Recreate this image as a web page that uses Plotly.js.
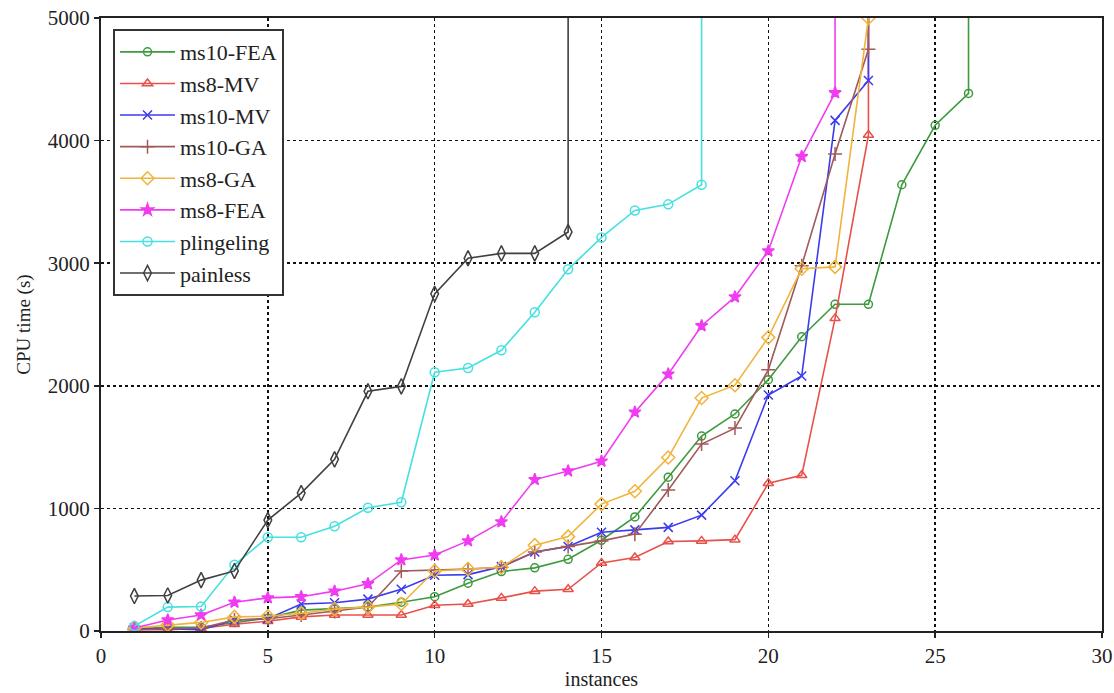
<!DOCTYPE html>
<html>
<head>
<meta charset="utf-8">
<script src="https://cdn.plot.ly/plotly-3.0.1.min.js"></script>
<style>html,body{margin:0;padding:0;background:#fff;}#chart{width:1114px;height:693px;}</style>
</head>
<body>
<div id="chart"></div>
<script>
// Values of 10000 represent a timeout (drawn as the vertical rise off the top of the chart)
const TIMEOUT = 10000;

const ms10FEA_x = [1,2,3,4,5,6,7,8,9,10,11,12,13,14,15,16,17,18,19,20,21,22,23,24,25,26,26];
const ms10FEA_y = [15,30,30,70,105,170,180,195,235,280,390,485,515,585,740,930,1255,1590,1770,2050,2400,2665,2665,3640,4125,4385,TIMEOUT];

const ms8MV_x = [1,2,3,4,5,6,7,8,9,10,11,12,13,14,15,16,17,18,19,20,21,22,23,23];
const ms8MV_y = [10,10,20,55,80,115,130,130,130,210,220,270,325,340,555,600,730,735,745,1205,1270,2550,4045,TIMEOUT];

const ms10MV_x = [1,2,3,4,5,6,7,8,9,10,11,12,13,14,15,16,17,18,19,20,21,22,23,23];
const ms10MV_y = [25,15,10,90,100,220,230,260,340,455,460,525,645,690,805,825,845,945,1225,1925,2080,4165,4490,TIMEOUT];

const ms10GA_x = [1,2,3,4,5,6,7,8,9,10,11,12,13,14,15,16,17,18,19,20,21,22,23,23];
const ms10GA_y = [10,20,25,90,100,130,160,195,490,495,505,520,645,690,735,790,1150,1525,1655,2130,2980,3890,4745,TIMEOUT];

const ms8GA_x = [1,2,3,4,5,6,7,8,9,10,11,12,13,14,15,16,17,18,19,20,21,22,23,23];
const ms8GA_y = [25,50,70,115,120,145,180,195,220,490,505,520,700,770,1035,1140,1415,1900,2005,2395,2955,2970,5000,TIMEOUT];

const ms8FEA_x = [1,2,3,4,5,6,7,8,9,10,11,12,13,14,15,16,17,18,19,20,21,22,22];
const ms8FEA_y = [25,90,130,235,270,280,325,385,580,620,735,890,1235,1305,1385,1785,2095,2490,2725,3100,3870,4390,TIMEOUT];

const plingeling_x = [1,2,3,4,5,6,7,8,9,10,11,12,13,14,15,16,17,18,18];
const plingeling_y = [40,195,200,540,765,765,855,1005,1050,2110,2145,2290,2600,2950,3210,3430,3480,3640,TIMEOUT];

const painless_x = [1,2,3,4,5,6,7,8,9,10,11,12,13,14,14];
const painless_y = [285,290,415,490,905,1125,1400,1955,1995,2750,3040,3080,3080,3255,TIMEOUT];

const seriesNames = ["ms10-FEA","ms8-MV","ms10-MV","ms10-GA","ms8-GA","ms8-FEA","plingeling","painless"];
const seriesColors = ["#3d9a3d","#e8504a","#3b3bf0","#a05a5a","#f0b43c","#f03cf0","#46e0e0","#404040"];
const seriesSymbols = ["circle-open","triangle-up-open","x-thin-open","cross-thin-open","diamond-open","star","circle-open","diamond-tall-open"];
const seriesSizes = [8,9,9,10,10,9,9,11];
const xTickVals = [0,5,10,15,20,25,30];
const yTickVals = [0,1000,2000,3000,4000,5000];

const xs = [ms10FEA_x, ms8MV_x, ms10MV_x, ms10GA_x, ms8GA_x, ms8FEA_x, plingeling_x, painless_x];
const ys = [ms10FEA_y, ms8MV_y, ms10MV_y, ms10GA_y, ms8GA_y, ms8FEA_y, plingeling_y, painless_y];

const traces = seriesNames.map((n, i) => ({
  type: 'scatter', mode: 'lines+markers', name: n, legendgroup: 'g' + i,
  x: xs[i], y: ys[i],
  line: {color: seriesColors[i], width: 1.6},
  marker: {symbol: seriesSymbols[i], size: seriesSizes[i], color: seriesColors[i], line: {width: 1.5, color: seriesColors[i]}},
  cliponaxis: true
}));

const FAM = 'Liberation Serif, Times New Roman, serif';

const layout = {
  width: 1114, height: 693,
  margin: {l: 101, r: 12, t: 18, b: 62},
  paper_bgcolor: '#fff', plot_bgcolor: '#fff',
  font: {family: FAM, color: '#222', size: 18},
  showlegend: true,
  legend: {
    x: 0.012, y: 0.982, xanchor: 'left', yanchor: 'top',
    bgcolor: '#fff', bordercolor: '#333', borderwidth: 2,
    font: {family: FAM, size: 22, color: '#222'},
    tracegroupgap: 5, itemwidth: 55, traceorder: 'normal'
  },
  xaxis: {
    range: [0, 30], tickvals: xTickVals, ticktext: xTickVals.map(String),
    showline: true, linecolor: '#222', linewidth: 2, mirror: true,
    ticks: 'outside', ticklen: 5, tickcolor: '#222', tickwidth: 1.5,
    showgrid: true, gridcolor: '#111', gridwidth: 1.6, griddash: 'dot',
    zeroline: false,
    title: {text: 'instances', font: {family: FAM, size: 20}, standoff: 2},
    tickfont: {family: FAM, size: 21}
  },
  yaxis: {
    range: [0, 5000], tickvals: yTickVals, ticktext: yTickVals.map(String),
    showline: true, linecolor: '#222', linewidth: 2, mirror: true,
    ticks: 'outside', ticklen: 5, tickcolor: '#222', tickwidth: 1.5,
    showgrid: true, gridcolor: '#111', gridwidth: 1.6, griddash: 'dot',
    zeroline: false,
    title: {text: 'CPU time (s)', font: {family: FAM, size: 19}, standoff: 12},
    tickfont: {family: FAM, size: 21}
  }
};

Plotly.newPlot('chart', traces, layout, {displayModeBar: false, staticPlot: true});
</script>
</body>
</html>
